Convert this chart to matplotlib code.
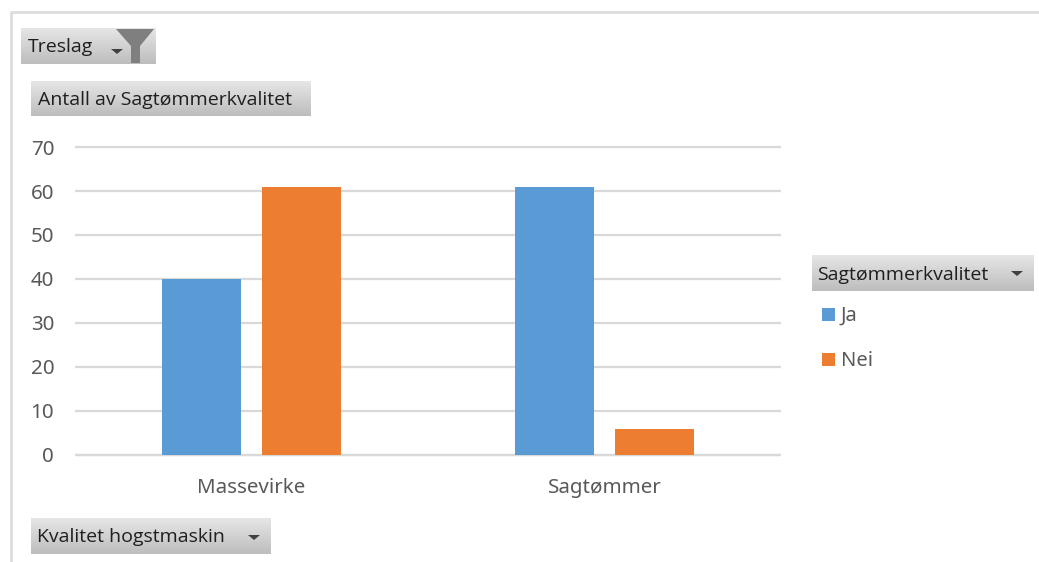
import numpy as np
import matplotlib
matplotlib.use("Agg")
import matplotlib.pyplot as plt
from matplotlib.patches import Polygon, Rectangle

categories = ["Massevirke", "Sagtømmer"]
series_names = ["Ja", "Nei"]
ja_values = [40, 61]
nei_values = [61, 6]
y_ticks = [0, 10, 20, 30, 40, 50, 60, 70]

BLUE = "#5B9BD5"
ORANGE = "#ED7D31"
GRID = "#D9D9D9"
TICK = "#595959"
W, H = 1039, 562

plt.rcParams["font.family"] = ["Noto Sans", "DejaVu Sans"]
fig = plt.figure(figsize=(W / 100, H / 100), dpi=100, facecolor="white")

# Plot area
ax = fig.add_axes([75 / W, 1 - 455 / H, (781 - 75) / W, (455 - 147) / H])
x = np.arange(len(categories))
bw, off = 0.223, 0.1425
ax.bar(x - off, ja_values, bw, color=BLUE, zorder=3)
ax.bar(x + off, nei_values, bw, color=ORANGE, zorder=3)
ax.set_xlim(-0.5, 1.5)
ax.set_ylim(0, 70)
ax.set_yticks(y_ticks)
ax.set_xticks(x, categories)
ax.grid(axis="y", color=GRID, lw=1.6, zorder=0)
ax.set_axisbelow(True)
for s in ["top", "right", "left"]:
    ax.spines[s].set_visible(False)
ax.spines["bottom"].set_color(GRID)
ax.spines["bottom"].set_linewidth(1.6)
ax.spines["bottom"].set_capstyle("butt")
ax.tick_params(axis="both", length=0, labelcolor=TICK, labelsize=14.8)
ax.tick_params(axis="y", pad=15)
ax.tick_params(axis="x", pad=16.5)
for line in ax.get_ygridlines():
    line.set_clip_on(False)
    line.set_solid_capstyle("butt")

# Pixel-coordinate overlay for the pivot-chart field buttons and frame
ov = fig.add_axes([0, 0, 1, 1], facecolor="none", zorder=5)
ov.axis("off")

ov.plot([11, 11], [12, H], color="#DDDDDD", lw=2, solid_capstyle="butt")
ov.plot([10, W], [12, 12], color="#DDDDDD", lw=2, solid_capstyle="butt")

grad = np.linspace(0, 1, 64).reshape(-1, 1)
cmap = matplotlib.colors.LinearSegmentedColormap.from_list("btn", ["#E6E6E6", "#BDBDBD"])


def button(x0, y0, x1, y1, label, arrow=None, inset=7):
    ov.imshow(grad, extent=(x0, x1, y1, y0), cmap=cmap, aspect="auto", zorder=2, origin="upper")
    ov.text(x0 + inset, (y0 + y1) / 2 + 1.5, label, fontsize=14, color="#1F1F1F", va="center", ha="left", zorder=3,
            family=["Open Sans", "DejaVu Sans"])
    if arrow is not None:
        ax_, ay_ = arrow
        ov.add_patch(Polygon([(ax_ - 6, ay_ - 2), (ax_ + 6, ay_ - 2), (ax_, ay_ + 3)], color="#404040", zorder=4, lw=0))


button(21, 28, 156, 64, "Treslag", arrow=(117, 51))
button(31, 81, 311, 116, "Antall av Sagtømmerkvalitet")
button(812, 255, 1034, 291, "Sagtømmerkvalitet", arrow=(1017, 273), inset=5.5)
button(31, 518, 271, 554, "Kvalitet hogstmaskin", arrow=(254, 537), inset=6)

# Filter funnel icon
ov.add_patch(Polygon([(116, 29), (154, 29), (140, 46), (140, 63), (131, 63), (131, 46)],
                     color="#7F7F7F", zorder=4, lw=0))

# Legend
for name, col, yy in zip(series_names, [BLUE, ORANGE], [314, 359]):
    ov.add_patch(Rectangle((822, yy - 6.5), 13, 13, color=col, zorder=4, lw=0))
    ov.text(841, yy + 1.5, name, fontsize=14.5, color=TICK, va="center", ha="left", zorder=4)

ov.set_xlim(0, W)
ov.set_ylim(H, 0)
fig.savefig("out.png", dpi=100, facecolor="white")
